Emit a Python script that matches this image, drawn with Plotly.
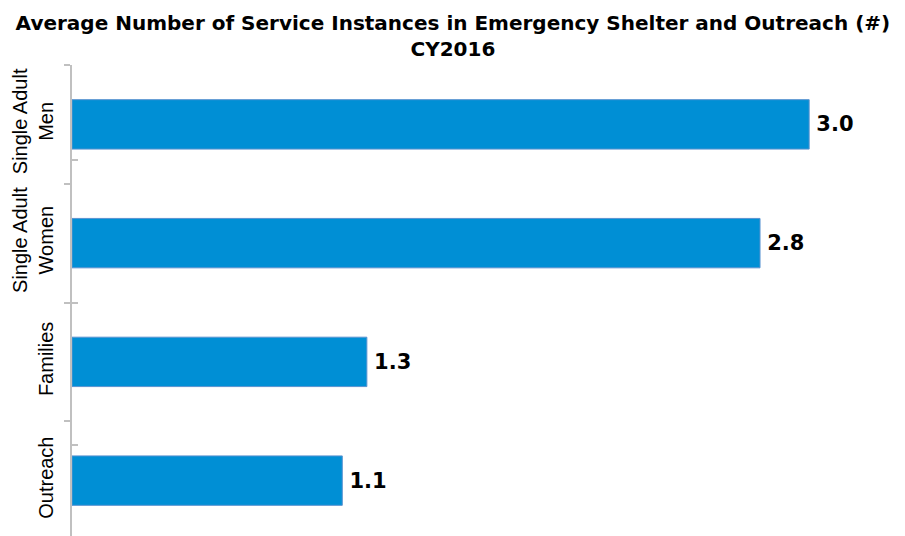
import plotly.graph_objects as go

categories = ["Single Adult<br>Men", "Single Adult<br>Women", "Families", "Outreach"]
values = [3.0, 2.8, 1.2, 1.1]
value_labels = ["3.0", "2.8", "1.3", "1.1"]

title_text = "Average Number of Service Instances in Emergency Shelter and Outreach (#)<br>CY2016"

fig = go.Figure()
fig.add_trace(go.Bar(
    x=values, y=categories, orientation="h",
    marker=dict(color="#008FD5", line=dict(color="#5A93D0", width=1)),
    text=value_labels, texttemplate="\u2009%{text}",
    textposition="outside", cliponaxis=False,
    textfont=dict(family="DejaVu Sans", size=21, color="#000000", weight="bold"),
    showlegend=False, hoverinfo="skip",
))
fig.add_trace(go.Scatter(
    x=values, y=categories, mode="none", yaxis="y2",
    showlegend=False, hoverinfo="skip",
))

fig.update_layout(
    width=897, height=532,
    margin=dict(l=64, r=0, t=57, b=0, autoexpand=False),
    paper_bgcolor="white", plot_bgcolor="white",
    bargap=0.584,
    title=dict(text=title_text, x=0.496, xanchor="center",
               yref="container", y=0.958, yanchor="middle",
               font=dict(family="DejaVu Sans", size=20, color="#000000", weight="bold")),
    xaxis=dict(visible=False, range=[0, 3.39], fixedrange=True, automargin=False),
    yaxis=dict(type="category", autorange="reversed", tickson="boundaries",
               ticks="outside", ticklen=6, tickwidth=2, tickcolor="#C0C0C0",
               showline=True, linecolor="#C0C0C0", linewidth=2,
               showgrid=False, zeroline=False, tickangle=-90, automargin=False,
               ticklabelstandoff=9,
               tickfont=dict(family="Liberation Sans", size=20, color="#000000")),
    yaxis2=dict(type="category", overlaying="y", side="left", autorange="reversed",
                categoryarray=categories, categoryorder="array", automargin=False,
                tickson="boundaries", ticks="inside", ticklen=6, tickwidth=2,
                tickcolor="#C0C0C0", showticklabels=False, showline=False,
                showgrid=False, zeroline=False),
)

fig.write_html("out.html")
